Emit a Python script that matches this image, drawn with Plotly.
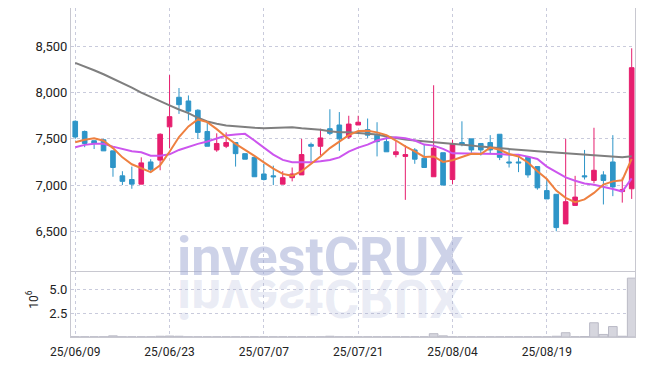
import plotly.graph_objects as go
from plotly.subplots import make_subplots

dates = [
    "2025-06-09", "2025-06-10", "2025-06-11", "2025-06-12", "2025-06-13",
    "2025-06-16", "2025-06-17", "2025-06-18", "2025-06-19", "2025-06-20",
    "2025-06-23", "2025-06-24", "2025-06-25", "2025-06-26", "2025-06-27",
    "2025-06-30", "2025-07-01", "2025-07-02", "2025-07-03", "2025-07-04",
    "2025-07-07", "2025-07-08", "2025-07-09", "2025-07-10", "2025-07-11",
    "2025-07-14", "2025-07-15", "2025-07-16", "2025-07-17", "2025-07-18",
    "2025-07-21", "2025-07-22", "2025-07-23", "2025-07-24", "2025-07-25",
    "2025-07-28", "2025-07-29", "2025-07-30", "2025-07-31", "2025-08-01",
    "2025-08-04", "2025-08-05", "2025-08-06", "2025-08-07", "2025-08-08",
    "2025-08-11", "2025-08-12", "2025-08-13", "2025-08-14", "2025-08-18",
    "2025-08-19", "2025-08-20", "2025-08-21", "2025-08-22", "2025-08-25",
    "2025-08-26", "2025-08-27", "2025-08-28", "2025-08-29", "2025-09-01",
]

open_ = [7690, 7580, 7480, 7490, 7370, 7100, 7060, 7010, 7250, 7270,
         7630, 7950, 7910, 7810, 7580, 7380, 7420, 7460, 7340, 7300,
         7120, 7100, 7010, 7080, 7110, 7440, 7420, 7610, 7650, 7520,
         7650, 7600, 7540, 7470, 7330, 7310, 7380, 7290, 7090, 7350,
         7060, 7460, 7500, 7450, 7460, 7550, 7250, 7250, 7300, 7200,
         6940, 6900, 6580, 6780, 7100, 7050, 7110, 7250, 6930, 6960]
high = [7700, 7590, 7480, 7500, 7370, 7150, 7200, 7300, 7280, 7560,
        8190, 8050, 7970, 7820, 7680, 7560, 7570, 7460, 7340, 7300,
        7230, 7210, 7150, 7190, 7500, 7460, 7610, 7820, 7790, 7750,
        7750, 7720, 7680, 7540, 7480, 7430, 7400, 7440, 8080, 7350,
        7490, 7690, 7500, 7450, 7540, 7550, 7380, 7320, 7300, 7200,
        7070, 6900, 7500, 7100, 7380, 7620, 7150, 7540, 7080, 8480]
low = [7500, 7410, 7390, 7370, 7090, 7000, 6960, 7010, 7140, 7160,
       7400, 7770, 7700, 7500, 7420, 7360, 7400, 7200, 7280, 7090,
       7050, 7000, 7010, 7040, 7110, 7260, 7320, 7540, 7370, 7500,
       7650, 7510, 7310, 7360, 7300, 6840, 7230, 7190, 7090, 7000,
       7010, 7420, 7350, 7320, 7340, 7270, 7190, 7140, 7080, 6950,
       6850, 6500, 6580, 6780, 7060, 7020, 6790, 6880, 6810, 6850]
close = [7520, 7450, 7450, 7370, 7190, 7040, 7010, 7240, 7170, 7550,
         7740, 7870, 7800, 7570, 7420, 7450, 7460, 7340, 7280, 7090,
         7060, 7090, 7080, 7120, 7330, 7420, 7510, 7560, 7500, 7660,
         7680, 7540, 7470, 7360, 7360, 7330, 7280, 7190, 7400, 7000,
         7450, 7440, 7380, 7380, 7380, 7300, 7240, 7240, 7110, 6970,
         6850, 6540, 6820, 6870, 7090, 7160, 7050, 6980, 6950, 8270]

ma5 = [7463, 7490, 7507, 7480, 7400, 7300, 7225, 7180, 7140, 7215,
       7360, 7520, 7635, 7710, 7681, 7605, 7520, 7446, 7385, 7315,
       7246, 7178, 7121, 7100, 7150, 7225, 7310, 7400, 7475, 7540,
       7585, 7588, 7570, 7540, 7482, 7418, 7365, 7305, 7310, 7250,
       7268, 7305, 7338, 7335, 7405, 7382, 7336, 7310, 7245, 7150,
       7065, 6940, 6862, 6815, 6845, 6915, 7005, 7040, 7052, 7284]
ma20 = [7409, 7435, 7446, 7446, 7416, 7391, 7365, 7354, 7318, 7318,
        7333, 7380, 7416, 7446, 7471, 7500, 7536, 7547, 7554, 7482,
        7409, 7329, 7272, 7246, 7246, 7246, 7257, 7272, 7300, 7362,
        7405, 7438, 7482, 7507, 7518, 7507, 7482, 7438, 7427, 7391,
        7343, 7343, 7337, 7337, 7337, 7337, 7329, 7329, 7308, 7282,
        7200, 7137, 7083, 7047, 7018, 7003, 6982, 6957, 6930, 7072]
ma60 = [8322, 8286, 8242, 8199, 8152, 8104, 8054, 8000, 7952, 7909,
        7862, 7818, 7778, 7728, 7688, 7663, 7645, 7637, 7626, 7620,
        7615, 7620, 7626, 7626, 7615, 7609, 7598, 7583, 7572, 7572,
        7566, 7561, 7547, 7525, 7507, 7492, 7482, 7474, 7463, 7456,
        7446, 7435, 7427, 7416, 7409, 7398, 7387, 7380, 7373, 7365,
        7358, 7354, 7343, 7337, 7329, 7322, 7315, 7308, 7300, 7311]

volume_m = [0.02, 0.02, 0.02, 0.02, 0.12, 0.02, 0.02, 0.02, 0.02, 0.08,
            0.10, 0.08, 0.02, 0.02, 0.02, 0.02, 0.02, 0.02, 0.02, 0.02,
            0.02, 0.02, 0.02, 0.02, 0.02, 0.02, 0.02, 0.08, 0.02, 0.02,
            0.02, 0.02, 0.02, 0.02, 0.02, 0.02, 0.02, 0.02, 0.35, 0.12,
            0.02, 0.02, 0.02, 0.02, 0.02, 0.02, 0.02, 0.02, 0.02, 0.02,
            0.02, 0.08, 0.45, 0.03, 0.05, 1.50, 0.27, 1.10, 0.08, 6.20]

tick_vals = [dates[i] for i in (0, 10, 20, 30, 40, 50)]
tick_text = [d[2:].replace("-", "/") for d in tick_vals]

UP = "#e61e6e"
DOWN = "#2e95c8"
GRID = "#c9cbdc"
AXIS = "#c8c8d0"
FONT = "Roboto"

fig = make_subplots(rows=2, cols=1, shared_xaxes=True, vertical_spacing=0.0,
                    row_heights=[0.8, 0.2])

fig.add_trace(go.Candlestick(
    x=dates, open=open_, high=high, low=low, close=close,
    increasing=dict(line=dict(color=UP, width=1), fillcolor=UP),
    decreasing=dict(line=dict(color=DOWN, width=1), fillcolor=DOWN),
    whiskerwidth=0, showlegend=False, hoverinfo="skip"), row=1, col=1)

fig.add_trace(go.Scatter(x=dates, y=ma60, mode="lines",
                         line=dict(color="#7f7f7f", width=2), showlegend=False), row=1, col=1)
fig.add_trace(go.Scatter(x=dates, y=ma20, mode="lines",
                         line=dict(color="#cc55ee", width=2), showlegend=False), row=1, col=1)
fig.add_trace(go.Scatter(x=dates, y=ma5, mode="lines",
                         line=dict(color="#ee8040", width=2), showlegend=False), row=1, col=1)

fig.add_trace(go.Bar(x=dates, y=volume_m, marker=dict(color="#d6d6de",
                     line=dict(color="#babac6", width=1)), showlegend=False), row=2, col=1)

xr = [-0.45, 59.35]
for r in (1, 2):
    fig.update_xaxes(type="category", range=xr, tickvals=tick_vals, ticktext=tick_text,
                     showgrid=True, gridcolor=GRID, griddash="dot", gridwidth=1,
                     showline=True, linecolor=AXIS, linewidth=1, mirror=False,
                     rangeslider=dict(visible=False), ticks="", automargin=False,
                     ticklabelstandoff=4,
                     tickfont=dict(family=FONT, size=12, color="#222222"),
                     row=r, col=1)
fig.update_xaxes(showticklabels=False, row=1, col=1)

fig.update_yaxes(range=[6068, 8916], tickvals=[6500, 7000, 7500, 8000, 8500],
                 tickformat=",d", showgrid=True, gridcolor=GRID, griddash="dot",
                 showline=True, linecolor=AXIS, mirror=True, ticks="", automargin=False,
                 tickfont=dict(family=FONT, size=13, color="#222222"), zeroline=False,
                 row=1, col=1)
fig.update_yaxes(range=[0, 6.93], tickvals=[2.5, 5.0], tickformat=".1f",
                 showgrid=True, gridcolor=GRID, griddash="dot",
                 showline=True, linecolor=AXIS, mirror=True, ticks="", zeroline=False,
                 automargin=False,
                 tickfont=dict(family=FONT, size=13, color="#222222"),
                 row=2, col=1)

# volume unit label
fig.add_annotation(text="10<sup>6</sup>", xref="paper", yref="paper",
                   x=-0.068, y=0.115, xanchor="center", yanchor="middle", showarrow=False,
                   textangle=-90, font=dict(family=FONT, size=12, color="#222222"))

# watermark and its reflection
fig.add_annotation(text="<b>investCRUX</b>", xref="paper", yref="paper",
                   x=0.442, y=0.246, xanchor="center", yanchor="middle", showarrow=False,
                   font=dict(family=FONT, size=54, color="rgba(155,166,210,0.5)"))
fig.add_annotation(text="<b>investCRUX</b>", xref="paper", yref="paper",
                   x=0.442, y=0.118, xanchor="center", yanchor="middle", showarrow=False,
                   font=dict(family=FONT, size=54, color="rgba(160,170,210,0.22)"))

fig.update_layout(width=645, height=366, margin=dict(l=71, r=10, t=8, b=29, autoexpand=False),
                  paper_bgcolor="white", plot_bgcolor="white", bargap=0.08,
                  hovermode=False, showlegend=False)

post = """
document.body.style.margin = '0';
document.body.style.padding = '0';
var gd = document.getElementById('{plot_id}');
function flipRefl(){
  var t = gd.querySelector('g.annotation[data-index="2"] text');
  if(t){ t.style.transformBox='fill-box'; t.style.transformOrigin='center';
         t.style.transform='scaleY(-1)'; }
}
flipRefl();
if (gd.on) { gd.on('plotly_afterplot', flipRefl); }
"""
fig.write_html("out.html", post_script=post, config={"displayModeBar": False})
